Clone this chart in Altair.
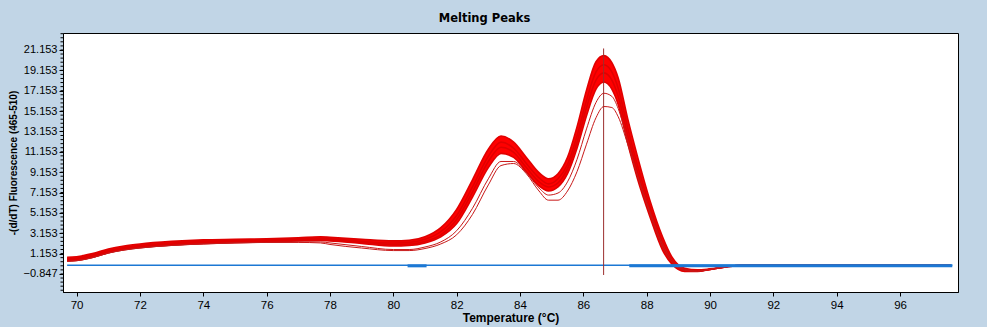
import altair as alt
import pandas as pd

# Temperature grid (°C)
temps = [69.7, 70.0, 70.5, 71.0, 71.5, 72.0, 73.0, 74.0, 75.0, 76.0, 77.0, 77.7, 78.0, 79.0,
         80.0, 80.5, 81.0, 81.5, 82.0, 82.5, 83.0, 83.4, 83.8, 84.2, 84.6, 84.9, 85.2, 85.5,
         85.8, 86.1, 86.4, 86.65, 86.9, 87.1, 87.4, 87.7, 88.1, 88.5, 88.8, 89.2, 89.6, 90.0,
         90.5, 91.0, 92.0, 94.0, 96.0, 97.6]

# -(d/dT) fluorescence curves
curve_a = [0.8, 0.85, 1.15, 1.6, 1.9, 2.1, 2.35, 2.5, 2.55, 2.6, 2.7, 2.8, 2.75, 2.55, 2.4, 2.45,
           2.8, 3.7, 5.5, 8.4, 11.4, 12.7, 12.1, 10.6, 9.1, 8.5, 9.0, 10.6, 13.6, 17.2, 20.0, 20.6,
           19.9, 18.4, 14.4, 10.8, 6.4, 2.8, 0.8, -0.3, -0.45, -0.35, -0.15, 0, 0, 0, 0, 0]
curve_b = [0.65, 0.7, 1.0, 1.45, 1.75, 1.95, 2.2, 2.35, 2.45, 2.5, 2.6, 2.65, 2.6, 2.35, 2.2, 2.25,
           2.55, 3.3, 4.9, 7.7, 10.7, 12.1, 11.5, 10.0, 8.6, 8.0, 8.5, 9.9, 12.7, 16.2, 19.0, 19.7,
           19.0, 17.4, 13.5, 9.9, 5.8, 2.3, 0.5, -0.45, -0.55, -0.4, -0.15, 0, 0, 0, 0, 0]
curve_c = [0.55, 0.6, 0.9, 1.35, 1.65, 1.85, 2.1, 2.25, 2.35, 2.4, 2.5, 2.55, 2.5, 2.25, 2.05, 2.1,
           2.35, 3.0, 4.5, 7.2, 10.2, 11.6, 11.1, 9.6, 8.2, 7.7, 8.1, 9.5, 12.1, 15.5, 18.2, 18.9,
           18.2, 16.6, 12.8, 9.3, 5.3, 1.9, 0.3, -0.5, -0.55, -0.4, -0.15, 0, 0, 0, 0, 0]
curve_d = [0.45, 0.5, 0.8, 1.25, 1.55, 1.75, 2.0, 2.15, 2.25, 2.3, 2.4, 2.45, 2.4, 2.15, 1.9, 1.95,
           2.2, 2.8, 4.1, 6.7, 9.6, 11.0, 10.6, 9.2, 7.8, 7.3, 7.7, 9.0, 11.5, 14.7, 17.3, 18.0,
           17.3, 15.8, 12.0, 8.6, 4.8, 1.5, 0.1, -0.6, -0.6, -0.4, -0.15, 0, 0, 0, 0, 0]
curve_e = [0.4, 0.45, 0.75, 1.2, 1.5, 1.7, 1.95, 2.1, 2.2, 2.25, 2.3, 2.3, 2.2, 1.85, 1.55, 1.55,
           1.8, 2.3, 3.4, 5.6, 8.5, 10.2, 10.2, 9.1, 7.6, 6.9, 7.1, 8.2, 10.4, 13.4, 16.0, 16.9,
           16.6, 15.4, 12.2, 8.9, 5.1, 1.8, 0.3, -0.5, -0.6, -0.4, -0.15, 0, 0, 0, 0, 0]
curve_f = [0.4, 0.45, 0.75, 1.2, 1.5, 1.7, 1.95, 2.1, 2.2, 2.25, 2.25, 2.2, 2.05, 1.7, 1.45, 1.45,
           1.65, 2.1, 3.0, 5.0, 7.9, 9.8, 10.0, 9.0, 7.3, 6.4, 6.4, 7.3, 9.2, 11.9, 14.5, 15.6,
           15.5, 14.6, 11.9, 8.9, 5.3, 2.1, 0.5, -0.4, -0.55, -0.4, -0.15, 0, 0, 0, 0, 0]

band_names = ["A", "B", "C", "D"]
thin_names = ["E", "F"]
curves = {"A": curve_a, "B": curve_b, "C": curve_c, "D": curve_d, "E": curve_e, "F": curve_f}

# Reference line (blue baseline) and Tm marker
baseline_x = [69.7, 97.65]
baseline_y = [0.0, 0.0]
ctrl_seg = ["s1", "s1", "s2", "s2"]
ctrl_x = [80.45, 81.05, 87.45, 97.65]
ctrl_y = [-0.05, -0.05, -0.05, -0.05]
tm_x = [86.64]
tm_top = [21.3]
tm_bottom = [-0.95]

y_ticks = [-0.847, 1.153, 3.153, 5.153, 7.153, 9.153, 11.153, 13.153, 15.153, 17.153, 19.153, 21.153]
y_minor = [round(-2.447 + 0.4 * k, 3) for k in range(0, 64) if -2.447 + 0.4 * k <= 22.8]
x_ticks = [70, 72, 74, 76, 78, 80, 82, 84, 86, 88, 90, 92, 94, 96]
x_dom = [69.57, 97.83]
y_dom = [-2.62, 22.82]

rows = []
for name, vals in curves.items():
    for t, v in zip(temps, vals):
        rows.append({"T": t, "v": v, "s": name})
df = pd.DataFrame(rows)
band_df = pd.DataFrame({"T": temps, "lo": curve_d, "hi": curve_a})
base_df = pd.DataFrame({"T": baseline_x, "v": baseline_y})
ctrl_df = pd.DataFrame({"T": ctrl_x, "v": ctrl_y, "seg": ctrl_seg})
tm_df = pd.DataFrame({"T": tm_x, "top": tm_top, "bot": tm_bottom})
minor_df = pd.DataFrame({"m": y_minor})

FONT = "Liberation Sans"
xs = alt.Scale(domain=x_dom, nice=False, zero=False)
ys = alt.Scale(domain=y_dom, nice=False, zero=False)

x_enc = alt.X("T:Q", scale=xs,
              axis=alt.Axis(values=x_ticks, format="d", title="Temperature (°C)", grid=False,
                            tickSize=4, labelFontSize=11.5, titleFontSize=12, titleFontWeight="bold",
                            titlePadding=2, labelPadding=3, labelOverlap=False))
y_axis = alt.Axis(values=y_ticks, format=".3f", title="-(d/dT) Fluorescence (465-510)", grid=False,
                  tickSize=4, labelFontSize=11, titleFontSize=10, titleFontWeight="bold",
                  titlePadding=5, labelPadding=2, orient="left", labelOverlap=False)


def xq():
    return alt.X("T:Q", scale=xs)


def yq(field):
    return alt.Y(field, scale=ys, axis=None)


band = alt.Chart(band_df).mark_area(color="#FF0000", interpolate="monotone", opacity=1).encode(
    x=x_enc,
    y=alt.Y("lo:Q", scale=ys, axis=y_axis),
    y2="hi:Q",
)

band_lines = alt.Chart(df[df["s"].isin(band_names)]).mark_line(
    color="#E00000", strokeWidth=1.6, interpolate="monotone").encode(
    x=xq(), y=yq("v:Q"), detail="s:N")

thin_lines = alt.Chart(df[df["s"].isin(thin_names)]).mark_line(
    color="#C81818", strokeWidth=1, interpolate="monotone").encode(
    x=xq(), y=yq("v:Q"), detail="s:N")

baseline = alt.Chart(base_df).mark_line(color="#1C78D4", strokeWidth=1.5).encode(
    x=xq(), y=yq("v:Q"))

ctrl = alt.Chart(ctrl_df).mark_line(color="#1C78D4", strokeWidth=3).encode(
    x=xq(), y=yq("v:Q"), detail="seg:N")

tm = alt.Chart(tm_df).mark_rule(color="#9B2D2D", strokeWidth=1).encode(
    x=xq(), y=yq("top:Q"), y2="bot:Q")

minor = alt.Chart(minor_df).mark_rule(color="black", strokeWidth=1).encode(
    y=yq("m:Q"), x=alt.value(-2.5), x2=alt.value(0))

chart = alt.layer(band, band_lines, thin_lines, ctrl, baseline, tm, minor).resolve_axis(
    y="independent").properties(
    width=895, height=259,
    padding={"left": 63, "top": 33, "right": 29, "bottom": 35},
    autosize=alt.AutoSizeParams(type="none"),
    title=alt.TitleParams("Melting Peaks", fontSize=11.5, fontWeight="bold", font="DejaVu Sans",
                          anchor="middle", dx=-26, offset=9, color="black"),
    background="#C1D5E6",
).configure_view(
    stroke="black", strokeWidth=1, fill="white"
).configure_axis(
    labelFont=FONT, titleFont=FONT, labelColor="black", titleColor="black",
    domainColor="black", tickColor="black", domainWidth=1,
)

chart.save("out.html", embed_options={"renderer": "svg", "actions": False})
